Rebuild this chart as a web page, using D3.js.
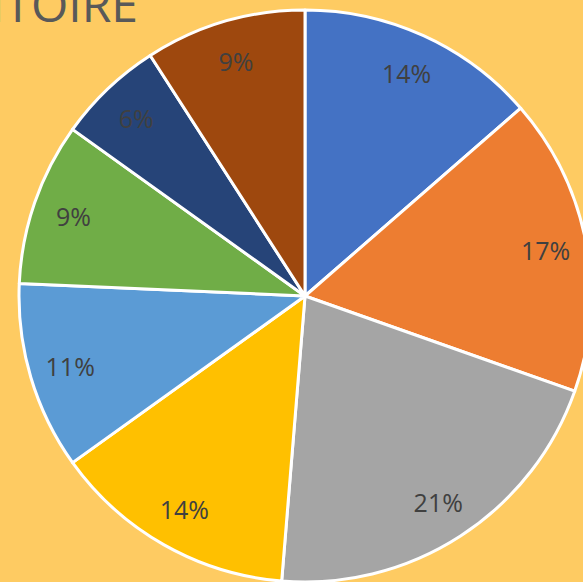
<!DOCTYPE html>
<html>
<head>
<meta charset="utf-8">
<script src="https://cdn.jsdelivr.net/npm/d3@7"></script>
<style>
  html, body { margin: 0; padding: 0; background: #FECB62; overflow: hidden; }
  svg { display: block; }
</style>
</head>
<body>
<svg id="chart" width="583" height="582"></svg>
<script>
// Data
const categories = ["Cat 1", "Cat 2", "Cat 3", "Cat 4", "Cat 5", "Cat 6", "Cat 7", "Cat 8"];
const values = [13.6, 16.8, 20.9, 13.8, 10.6, 9.2, 6.0, 9.1];
const colors = ["#4472C4", "#ED7D31", "#A5A5A5", "#FFC000", "#5B9BD5", "#70AD47", "#264478", "#9E480E"];
const titleText = "TERRITOIRE";

const W = 583, H = 582;
const cx = 305, cy = 296, R = 286;

const svg = d3.select("#chart");
svg.append("rect").attr("width", W).attr("height", H).attr("fill", "#FECB62");

svg.append("text")
  .attr("x", 138).attr("y", 22)
  .attr("text-anchor", "end")
  .attr("font-family", "'Open Sans', sans-serif")
  .attr("font-size", 48)
  .attr("fill", "#595959")
  .text(titleText);

const data = categories.map((c, i) => ({ cat: c, value: values[i], color: colors[i] }));
const total = d3.sum(values);

const pie = d3.pie().sort(null).value(d => d.value);
const arc = d3.arc().innerRadius(0).outerRadius(R);
const labelArc = d3.arc().innerRadius(245).outerRadius(245);

const g = svg.append("g").attr("transform", `translate(${cx},${cy})`);
const arcs = pie(data);

g.selectAll("path.slice")
  .data(arcs)
  .join("path")
  .attr("class", "slice")
  .attr("d", arc)
  .attr("fill", d => d.data.color)
  .attr("stroke", "#FFFFFF")
  .attr("stroke-width", 3)
  .attr("stroke-linejoin", "round");

g.selectAll("text.lbl")
  .data(arcs)
  .join("text")
  .attr("class", "lbl")
  .attr("transform", d => `translate(${labelArc.centroid(d)})`)
  .attr("text-anchor", "middle")
  .attr("dominant-baseline", "central")
  .attr("font-family", "'Open Sans', sans-serif")
  .attr("font-size", 25)
  .attr("fill", "#404040")
  .text(d => Math.round(d.data.value / total * 100) + "%");
</script>
</body>
</html>
